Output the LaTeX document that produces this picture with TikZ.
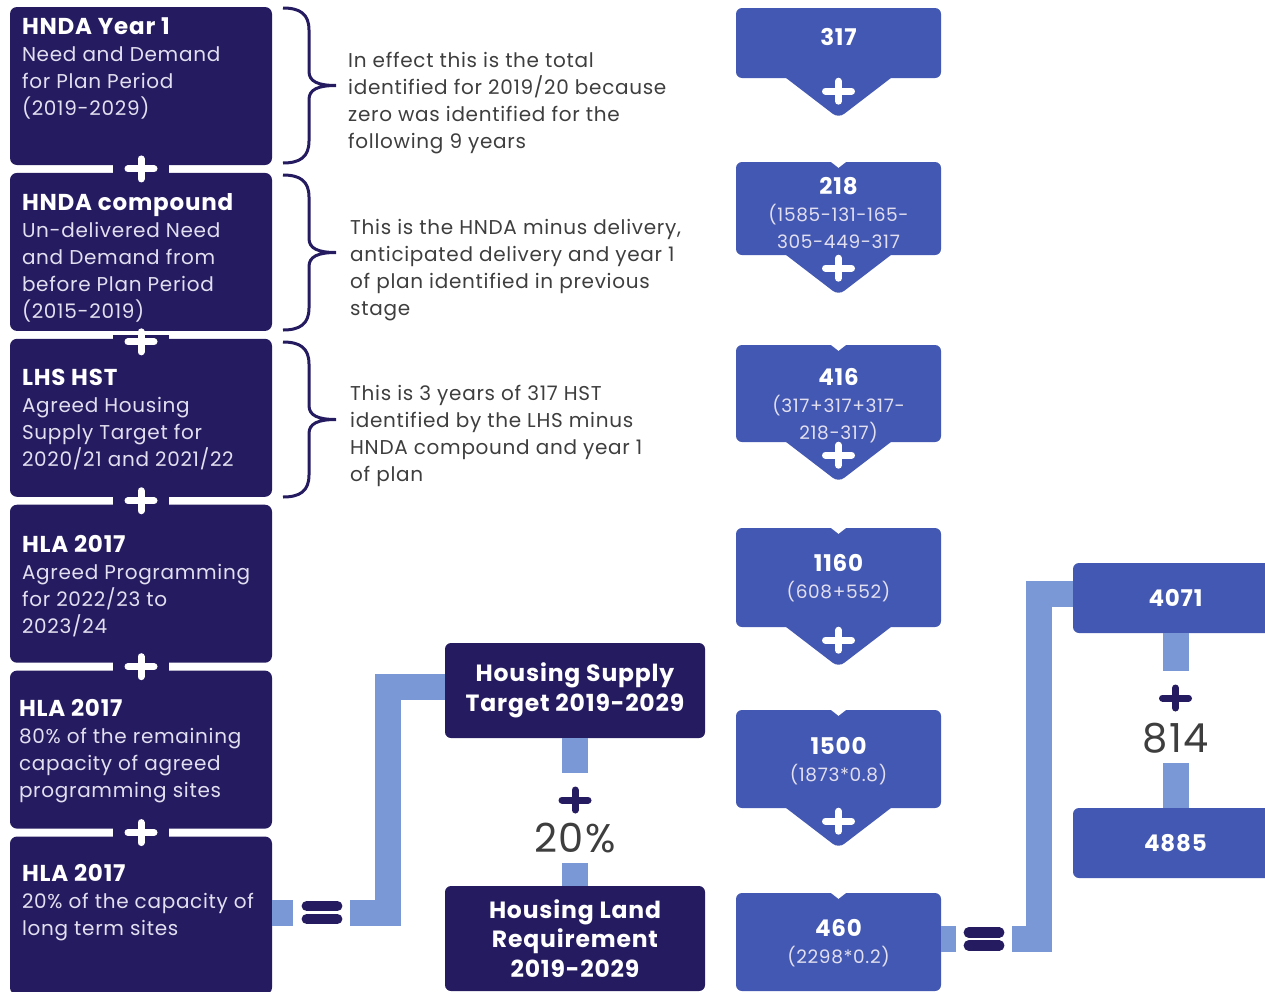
\documentclass[tikz,border=0pt]{standalone}
\usepackage{fontspec}
\setmainfont{Poppins}[LetterSpace=3.5]
\usetikzlibrary{positioning,calc}

\definecolor{navy}{RGB}{37,27,96}
\definecolor{midblue}{RGB}{67,88,178}
\definecolor{barblue}{RGB}{122,151,214}
\definecolor{notegray}{RGB}{62,62,62}
\definecolor{paletext}{RGB}{226,223,240}

\newcommand{\boxtitle}[1]{{\fontsize{23}{27}\selectfont\bfseries\color{white}#1}}
\newcommand{\valnum}[1]{{\fontsize{23}{27}\selectfont\bfseries\color{white}#1}}

\tikzset{
  plussign/.pic={\draw[line width=7pt, line cap=round] (-13,0) -- (13,0) (0,-10) -- (0,10);}
}

\begin{document}
\begin{tikzpicture}[
  x=1pt, y=-1pt,
  srcbox/.style={fill=navy, rounded corners=7pt, minimum width=262pt, minimum height=158pt, inner sep=0pt},
  srctext/.style={anchor=north west, align=left, inner sep=0pt, text=paletext, font=\fontsize{20}{27}\selectfont},
  note/.style={anchor=north west, align=left, inner sep=0pt, text=notegray, font=\fontsize{20}{27}\selectfont},
  valbox/.style={fill=midblue, rounded corners=6pt, minimum width=205pt, inner sep=0pt},
  valtext/.style={anchor=north, align=center, inner sep=0pt, text=paletext, font=\fontsize{18.5}{27}\selectfont},
  targetbox/.style={fill=navy, rounded corners=6pt, minimum width=260pt, align=center, text=white, font=\fontsize{23.5}{29.5}\selectfont\bfseries},
  bigfig/.style={inner sep=0pt, text=notegray, font=\fontsize{40}{40}\selectfont},
  bar/.style={draw=barblue, line width=26pt},
  eqsign/.style={minimum width=40pt, minimum height=24pt, inner sep=0pt},
  eqpill/.style={navy, line width=10.5pt, line cap=round},
  bracestroke/.style={navy, line width=3pt},
  node distance=7.5pt
]
\useasboundingbox (0,0) rectangle (1265,991);

% left column of sources
\node[srcbox] (hnda1) at (141,86) {};
\node[srcbox, below=of hnda1] (hndac) {};
\node[srcbox, below=of hndac] (lhs) {};
\node[srcbox, below=of lhs] (hlaprog) {};
\node[srcbox, below=of hlaprog] (hlarem) {};
\node[srcbox, below=of hlarem] (hlalong) {};

\node[srctext] (hnda1txt) at ($(hnda1.north west)+(12,11)$)
  {\boxtitle{HNDA Year 1}\\ Need and Demand\\ for Plan Period\\ (2019-2029)};
\node[srctext] (hndactxt) at ($(hndac.north west)+(12,21)$)
  {\boxtitle{HNDA compound}\\ Un-delivered Need\\ and Demand from\\ before Plan Period\\ (2015-2019)};
\node[srctext] (lhstxt) at ($(lhs.north west)+(12,30)$)
  {\boxtitle{LHS HST}\\ Agreed Housing\\ Supply Target for\\ 2020/21 and 2021/22};
\node[srctext] (hlaprogtxt) at ($(hlaprog.north west)+(12,31)$)
  {\boxtitle{HLA 2017}\\ Agreed Programming\\ for 2022/23 to\\ 2023/24};
\node[srctext] (hlaremtxt) at ($(hlarem.north west)+(9,29)$)
  {\boxtitle{HLA 2017}\\ 80\% of the remaining\\ capacity of agreed\\ programming sites};
\node[srctext] (hlalongtxt) at ($(hlalong.north west)+(12,28)$)
  {\boxtitle{HLA 2017}\\ 20\% of the capacity of\\ long term sites};

% necks with plus signs between the sources
\foreach \a/\b/\dy in {hnda1/hndac/0, hndac/lhs/7, lhs/hlaprog/0, hlaprog/hlarem/0, hlarem/hlalong/0} {
  \fill[navy] ($(\a.south)+(-28,-3+\dy)$) rectangle ($(\b.north)+(28,3+\dy)$);
  \pic[white] at ($(\a.south)!0.5!(\b.north)+(0,\dy)$) {plussign};
}

% braces and notes
\foreach \top/\bot in {8/163, 175/330, 342/497} {
  \pgfmathsetmacro\mid{(\top+\bot)/2}
  \draw[bracestroke] (283,\top) .. controls (300,\top) and (309,\top+6) .. (309,\top+22)
    -- (309,\mid-14) .. controls (309,\mid-4) and (318,\mid) .. (336,\mid)
    .. controls (318,\mid) and (309,\mid+4) .. (309,\mid+14)
    -- (309,\bot-22) .. controls (309,\bot-6) and (300,\bot) .. (283,\bot);
}
\node[note] (note1) at (348,52)
  {In effect this is the total\\ identified for 2019/20 because\\ zero was identified for the\\ following 9 years};
\node[note] (note2) at (350,219)
  {This is the HNDA minus delivery,\\ anticipated delivery and year 1\\ of plan identified in previous\\ stage};
\node[note] (note3) at (350,385)
  {This is 3 years of 317 HST\\ identified by the LHS minus\\ HNDA compound and year 1\\ of plan};

% value column
\node[valbox, minimum height=70pt] (v317) at (838.5,43) {};
\node[valbox, minimum height=93pt] (v218) at (838.5,208.5) {};
\node[valbox, minimum height=97pt] (v416) at (838.5,393.5) {};
\node[valbox, minimum height=99pt] (v1160) at (838.5,577.5) {};
\node[valbox, minimum height=98pt] (v1500) at (838.5,759) {};
\node[valbox, minimum height=98pt] (v460) at (838.5,942) {};

\foreach \v in {v317, v218, v416, v1160, v1500} {
  \fill[midblue, rounded corners=7pt] ($(\v.south)+(-60,-6)$) -- ($(\v.south)+(0,40)$) -- ($(\v.south)+(60,-6)$) -- cycle;
  \pic[white] at ($(\v.south)+(0,13)$) {plussign};
}
\foreach \v in {v218, v416, v1160, v1500, v460}
  \fill[white] ($(\v.north)+(-9,-1)$) -- ($(\v.north)+(0,6)$) -- ($(\v.north)+(9,-1)$) -- cycle;

\node[valtext] (t317) at (838.5,28) {\valnum{317}};
\node[valtext] (t218) at (838.5,177) {\valnum{218}\\ (1585-131-165-\\ 305-449-317};
\node[valtext] (t416) at (838.5,368) {\valnum{416}\\ (317+317+317-\\ 218-317)};
\node[valtext] (t1160) at (838.5,554) {\valnum{1160}\\ (608+552)};
\node[valtext] (t1500) at (838.5,737) {\valnum{1500}\\ (1873*0.8)};
\node[valtext] (t460) at (838.5,919) {\valnum{460}\\ (2298*0.2)};

% totals on the right
\node[valbox, minimum height=70pt, text=white, font=\fontsize{23}{23}\selectfont\bfseries] (v4071) at (1175.5,598) {4071};
\node[valbox, minimum height=70pt, text=white, font=\fontsize{23}{23}\selectfont\bfseries] (v4885) at (1175.5,843) {4885};

% target and requirement
\node[targetbox, minimum height=95pt] (hst) at (575,690.5) {Housing Supply\\ Target 2019-2029};
\node[targetbox, minimum height=105pt] (hlr) at (575,938.5) {Housing Land\\ Requirement\\ 2019-2029};

\coordinate (hstend) at (575,773);
\coordinate (hlrend) at (575,863);
\draw[bar] (hst.south) -- (hstend);
\draw[bar] (hlrend) -- (hlr.north);
\pic[navy] at (575,800) {plussign};
\node[bigfig] (pct) at (575,838) {20\%};

\coordinate (v4071end) at (1175.5,671);
\coordinate (v4885end) at (1175.5,763);
\draw[bar] (v4071.south) -- (v4071end);
\draw[bar] (v4885end) -- (v4885.north);
\pic[navy] at (1175.5,698) {plussign};
\node[bigfig] (uplift) at (1175.5,738) {814};

% equals signs and the joining bars
\node[eqsign] (eqL) at (322,912.5) {};
\node[eqsign] (eqR) at (984,939) {};
\foreach \e in {eqL, eqR} {
  \draw[eqpill] ($(\e.west)+(5,-6.5)$) -- ($(\e.east)+(-5,-6.5)$);
  \draw[eqpill] ($(\e.west)+(5,6.5)$) -- ($(\e.east)+(-5,6.5)$);
}
\draw[bar, shorten >=9pt] (eqL.west -| hlalong.east) -- (eqL.west);
\draw[bar, shorten <=8pt] (eqL.east) -| ($(hst.west)+(-56.5,-4)$) -- ($(hst.west)+(0,-4)$);
\draw[bar, shorten >=8pt] (eqR.west -| v460.east) -- (eqR.west);
\draw[bar, shorten <=8pt] (eqR.east) -| ($(v4071.west)+(-34,-4)$) -- ($(v4071.west)+(0,-4)$);

\end{tikzpicture}
\end{document}
